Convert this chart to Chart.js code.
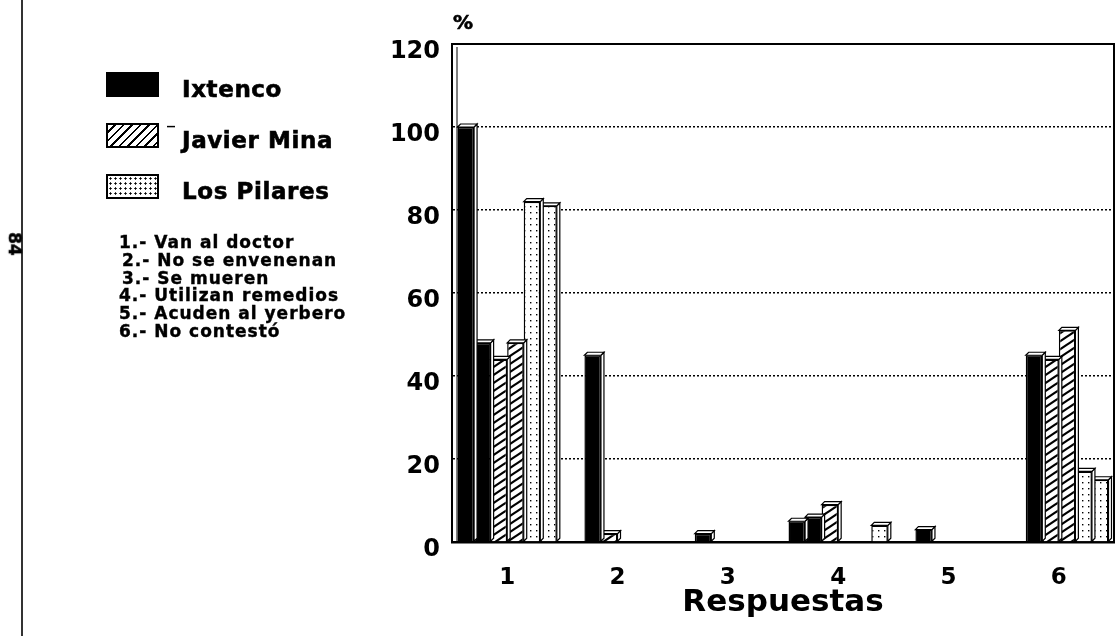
<!DOCTYPE html>
<html>
<head>
<meta charset="utf-8">
<script src="https://cdn.jsdelivr.net/npm/chart.js@4.4.1/dist/chart.umd.min.js"></script>
<style>
  body { margin: 0; background: #fff; font-family: "DejaVu Sans", sans-serif; font-weight: bold; color: #000; }
  #wrap { position: relative; width: 1117px; height: 636px; overflow: hidden; }
  #chart { position: absolute; left: 0; top: 0; }
  .edge { position: absolute; left: 21px; top: 0; width: 2px; height: 636px; background: #333; }
  .pagenum { position: absolute; left: 3px; top: 234px; font-size: 17px; transform: rotate(90deg); -webkit-text-stroke: 0.5px #000; }
  .pct { position: absolute; left: 453px; top: 10px; font-size: 20px; -webkit-text-stroke: 0.6px #000; }
  .legend { position: absolute; left: 106px; top: 72px; }
  .item { position: relative; height: 51px; }
  .swatch { position: absolute; left: 0; top: 0; width: 53px; height: 25px; box-sizing: border-box; border: 2px solid #000; }
  .solid { background: #000; }
  .hatch { background: repeating-linear-gradient(135deg, #fff 0 4px, #000 4px 6px); }
  .dots { background-color: #fff; background-image: radial-gradient(circle, #000 0.9px, transparent 1.3px); background-size: 5px 5px; }
  .lab { position: absolute; left: 76px; top: 4px; font-size: 23px; letter-spacing: 0.6px; white-space: nowrap; -webkit-text-stroke: 0.6px #000; }
  .dash { position: absolute; left: 61px; top: 0; font-size: 16px; }
  .list { position: absolute; left: 119px; top: 234px; font-size: 17px; line-height: 17.8px; letter-spacing: 1px; white-space: nowrap; -webkit-text-stroke: 0.4px #000; }
  .list .in { padding-left: 3px; }
</style>
</head>
<body>
<div id="wrap">
  <canvas id="chart" width="1117" height="636"></canvas>
  <div class="edge"></div>
  <div class="pagenum">84</div>
  <div class="pct">%</div>
  <div class="legend">
    <div class="item"><div class="swatch solid"></div><div class="lab">Ixtenco</div></div>
    <div class="item"><div class="swatch hatch"></div><div class="dash">‾</div><div class="lab">Javier Mina</div></div>
    <div class="item"><div class="swatch dots"></div><div class="lab">Los Pilares</div></div>
  </div>
  <div class="list">
    <div>1.- Van al doctor</div>
    <div class="in">2.- No se envenenan</div>
    <div class="in">3.- Se mueren</div>
    <div>4.- Utilizan remedios</div>
    <div>5.- Acuden al yerbero</div>
    <div>6.- No contestó</div>
  </div>
</div>
<script>
// categories (respuestas 1..6)
var categories = ['1', '2', '3', '4', '5', '6'];

// two bars per community in each answer
var ixtencoA = [100, 0, 0, 5, 0, 0];
var ixtencoB = [48, 45, 2, 6, 3, 45];
var javierA = [44, 2, 0, 9, 0, 44];
var javierB = [48, 0, 0, 0, 0, 51];
var pilaresA = [82, 0, 0, 0, 0, 17];
var pilaresB = [81, 0, 0, 4, 0, 15];

var yTicks = [0, 20, 40, 60, 80, 100, 120];

var fontFamily = '"DejaVu Sans", sans-serif';

// fill patterns
function makeHatch() {
  var c = document.createElement('canvas');
  c.width = 12; c.height = 8;
  var g = c.getContext('2d');
  g.fillStyle = '#fff';
  g.fillRect(0, 0, 12, 8);
  g.strokeStyle = '#000';
  g.lineWidth = 2.2;
  g.beginPath();
  g.moveTo(-12, 16); g.lineTo(12, 0);
  g.moveTo(0, 16); g.lineTo(24, 0);
  g.moveTo(-12, 8); g.lineTo(12, -8);
  g.stroke();
  return g.createPattern(c, 'repeat');
}
function makeDots() {
  var c = document.createElement('canvas');
  c.width = 6; c.height = 6;
  var g = c.getContext('2d');
  g.fillStyle = '#fff';
  g.fillRect(0, 0, 6, 6);
  g.fillStyle = '#000';
  g.fillRect(2, 2, 1.4, 1.4);
  return g.createPattern(c, 'repeat');
}
var hatch = makeHatch();
var dots = makeDots();

// small 3D side / top faces on every bar
var bars3d = {
  id: 'bars3d',
  afterDatasetDraw: function (chart, args) {
    var ctx = chart.ctx;
    var d = 3;
    args.meta.data.forEach(function (bar) {
      var p = bar.getProps(['x', 'y', 'base', 'width'], true);
      if (p.base - p.y < 0.5) return;
      var l = p.x - p.width / 2, r = p.x + p.width / 2;
      ctx.save();
      ctx.fillStyle = '#fff';
      ctx.strokeStyle = '#000';
      ctx.lineWidth = 1.2;
      ctx.beginPath();
      ctx.moveTo(r, p.base);
      ctx.lineTo(r, p.y);
      ctx.lineTo(r + d, p.y - d);
      ctx.lineTo(r + d, p.base - d);
      ctx.closePath();
      ctx.fill(); ctx.stroke();
      ctx.beginPath();
      ctx.moveTo(l, p.y);
      ctx.lineTo(l + d, p.y - d);
      ctx.lineTo(r + d, p.y - d);
      ctx.lineTo(r, p.y);
      ctx.closePath();
      ctx.fill(); ctx.stroke();
      ctx.restore();
    });
  }
};

// box edges of the plot and the thin inner wall line
var frame = {
  id: 'frame',
  beforeDatasetsDraw: function (chart) {
    var a = chart.chartArea, ctx = chart.ctx;
    ctx.save();
    ctx.strokeStyle = '#000';
    ctx.lineWidth = 1;
    ctx.beginPath();
    ctx.moveTo(a.left + 5, a.bottom);
    ctx.lineTo(a.left + 5, a.top + 3);
    ctx.stroke();
    ctx.restore();
  },
  afterDraw: function (chart) {
    var a = chart.chartArea, ctx = chart.ctx;
    ctx.save();
    ctx.strokeStyle = '#000';
    ctx.lineWidth = 2;
    ctx.beginPath();
    ctx.moveTo(a.left, a.top);
    ctx.lineTo(a.right, a.top);
    ctx.lineTo(a.right, a.bottom);
    ctx.stroke();
    ctx.restore();
  }
};

function ds(label, data, fill) {
  return {
    label: label,
    data: data,
    backgroundColor: fill,
    borderColor: '#000',
    borderWidth: 1.5
  };
}

var ctx = document.getElementById('chart').getContext('2d');

var myChart = new Chart(ctx, {
  type: 'bar',
  data: {
    labels: categories,
    datasets: [
      ds('Ixtenco', ixtencoA, '#000'),
      ds('Ixtenco ', ixtencoB, '#000'),
      ds('Javier Mina', javierA, hatch),
      ds('Javier Mina ', javierB, hatch),
      ds('Los Pilares', pilaresA, dots),
      ds('Los Pilares ', pilaresB, dots)
    ]
  },
  options: {
    responsive: false,
    animation: false,
    layout: { padding: { left: 360, top: 44, right: 3, bottom: 4 } },
    datasets: { bar: { categoryPercentage: 0.9, barPercentage: 1 } },
    plugins: {
      legend: { display: false },
      tooltip: { enabled: false }
    },
    scales: {
      x: {
        grid: { display: false, drawTicks: false },
        border: { color: '#000', width: 2.5 },
        ticks: { color: '#000', font: { family: fontFamily, size: 23, weight: 'bold' }, padding: 22 },
        title: {
          display: true,
          text: 'Respuestas',
          color: '#000',
          font: { family: fontFamily, size: 31, weight: 'bold' },
          padding: { top: 0, bottom: 10 }
        },
        afterFit: function (s) { s.height = 90; }
      },
      y: {
        min: 0,
        max: 120,
        afterBuildTicks: function (s) { s.ticks = yTicks.map(function (v) { return { value: v }; }); },
        ticks: { color: '#000', font: { family: fontFamily, size: 24, weight: 'bold' }, padding: 12, labelOffset: 8 },
        grid: {
          color: function (c) { return (c.tick && (c.tick.value === 0 || c.tick.value === 120)) ? 'rgba(0,0,0,0)' : '#000'; },
          lineWidth: 1.5,
          drawTicks: false
        },
        border: { color: '#000', width: 2, dash: [2, 2] },
        afterFit: function (s) { s.width = 92; }
      }
    }
  },
  plugins: [bars3d, frame]
});
</script>
</body>
</html>
